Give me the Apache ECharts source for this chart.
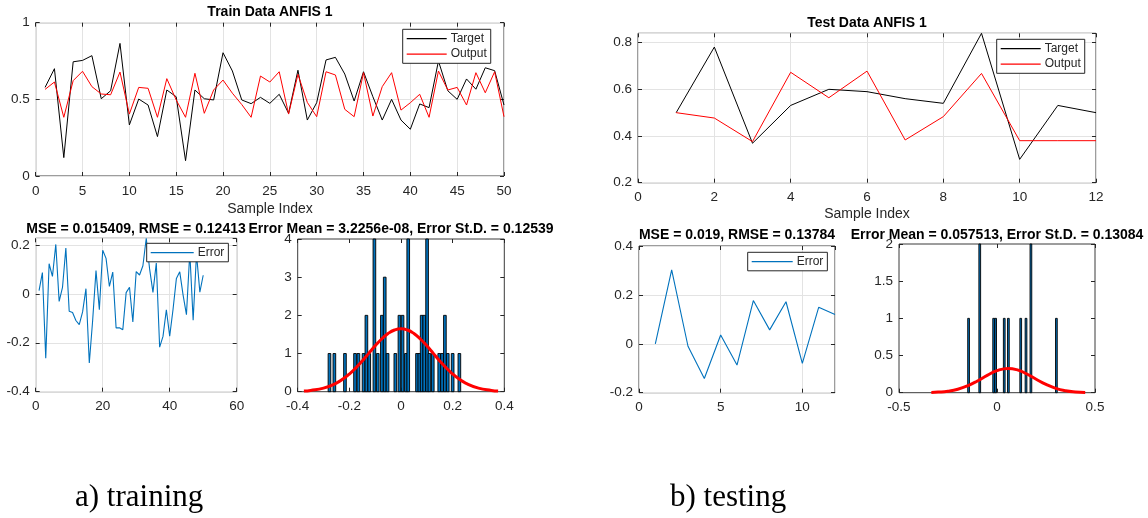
<!DOCTYPE html>
<html><head><meta charset="utf-8">
<script src="https://cdn.jsdelivr.net/npm/echarts@6/dist/echarts.min.js"></script>
<style>html,body{margin:0;padding:0;background:#fff}#c{width:1148px;height:518px}</style>
</head><body><div id="c"></div>
<script>
// ---------- DATA ----------
const trainIndex = [1,2,3,4,5,6,7,8,9,10,11,12,13,14,15,16,17,18,19,20,21,22,23,24,25,26,27,28,29,30,31,32,33,34,35,36,37,38,39,40,41,42,43,44,45,46,47,48,49,50];
const trainTarget = [0.578,0.70,0.12,0.745,0.754,0.785,0.504,0.556,0.865,0.333,
  0.502,0.463,0.257,0.561,0.517,0.10,0.561,0.504,0.496,0.804,
  0.685,0.496,0.472,0.513,0.474,0.533,0.409,0.69,0.365,0.478,
  0.757,0.774,0.665,0.489,0.68,0.517,0.365,0.50,0.365,0.305,
  0.47,0.446,0.75,0.556,0.50,0.633,0.566,0.706,0.687,0.463];
const trainOutput = [0.565,0.613,0.383,0.622,0.683,0.583,0.535,0.530,0.678,0.404,
  0.578,0.572,0.383,0.635,0.496,0.383,0.67,0.409,0.561,0.626,
  0.54,0.466,0.383,0.652,0.613,0.68,0.404,0.663,0.48,0.387,
  0.68,0.659,0.435,0.387,0.674,0.391,0.583,0.674,0.43,0.478,
  0.533,0.383,0.685,0.561,0.578,0.463,0.674,0.543,0.68,0.387];
const trainError = [0.013,0.087,-0.263,0.123,0.071,0.202,-0.031,0.026,0.187,-0.071,
  -0.076,-0.109,-0.126,-0.074,0.021,-0.283,-0.109,0.095,-0.065,0.178,
  0.145,0.030,0.089,-0.139,-0.139,-0.147,0.005,0.027,-0.115,0.091,
  0.077,0.115,0.227,0.102,0.006,0.126,-0.218,-0.174,-0.065,-0.173,
  -0.063,0.063,0.09,-0.005,-0.085,0.17,-0.108,0.163,0.007,0.076];
// histogram of training error: bin centres and counts
const trainBinCenters = [-0.277,-0.258,-0.217,-0.178,-0.165,-0.145,-0.134,-0.123,-0.103,-0.090,-0.074,-0.063,-0.052,-0.022,-0.006,0.006,0.019,0.028,0.062,0.071,0.080,0.090,0.101,0.110,0.123,0.148,0.159,0.170,0.181,0.200,0.226];
const trainBinCounts  = [1,1,1,1,1,1,2,1,4,1,2,3,1,1,2,2,1,4,1,1,2,2,4,1,1,1,1,2,1,1,1];
const trainBinWidth = 0.0103;
// fitted normal curve (train)
const trainFitX = [-0.376,-0.35,-0.3,-0.25,-0.225,-0.2,-0.175,-0.15,-0.125,-0.1,-0.075,-0.05,-0.025,0,0.025,0.05,0.075,0.1,0.125,0.15,0.175,0.2,0.225,0.25,0.3,0.35,0.376];
const trainFitY = [0.018,0.034,0.094,0.226,0.33,0.462,0.623,0.807,1.004,1.201,1.38,1.524,1.617,1.65,1.617,1.524,1.38,1.201,1.004,0.807,0.623,0.462,0.33,0.226,0.094,0.034,0.018];

const testIndex = [1,2,3,4,5,6,7,8,9,10,11,12];
const testTarget = [0.50,0.781,0.369,0.531,0.60,0.59,0.56,0.54,0.84,0.30,0.531,0.50];
const testOutput = [0.50,0.477,0.376,0.673,0.564,0.678,0.383,0.483,0.668,0.38,0.38,0.38];
const testError  = [0.0,0.302,-0.01,-0.142,0.036,-0.087,0.177,0.057,0.172,-0.08,0.149,0.12];
const testBinCenters = [-0.145,-0.088,-0.017,-0.007,0.037,0.058,0.121,0.148,0.173,0.303];
const testBinCounts  = [1,2,1,1,1,1,1,1,2,1];
const testBinWidth = 0.0089;
const testFitX = [-0.335,-0.3,-0.25,-0.2,-0.15,-0.1,-0.05,0,0.0575,0.1,0.15,0.2,0.25,0.3,0.35,0.4,0.45];
const testFitY = [0.0036,0.0078,0.0207,0.0472,0.093,0.158,0.233,0.297,0.327,0.310,0.255,0.181,0.111,0.0587,0.0269,0.0106,0.0036];

const titles = {
  train: 'Train Data ANFIS 1', test: 'Test Data ANFIS 1', xlab: 'Sample Index',
  trainErr: 'MSE = 0.015409, RMSE = 0.12413', trainHist: 'Error Mean = 3.2256e-08, Error St.D. = 0.12539',
  testErr: 'MSE = 0.019, RMSE = 0.13784', testHist: 'Error Mean = 0.057513, Error St.D. = 0.13084',
  capA: 'a) training', capB: 'b) testing'
};

// ---------- LAYOUT ----------
const FONT = '"Liberation Sans", Arial, sans-serif';
const AX = '#262626';
const grids = [
  {left:35.7, top:22.7, width:468.3, height:153.3},   // train top
  {left:35.7, top:238.3, width:201, height:153.4},    // train error
  {left:297.7, top:239, width:206.6, height:152.7},   // train hist
  {left:638, top:33.3, width:458, height:149.4},      // test top
  {left:639, top:246, width:196, height:146.7},       // test error
  {left:899, top:244, width:196, height:148.7}        // test hist
];
const ranges = [
  {x:[0,50,5], y:[0,1,0.5], grid:true},
  {x:[0,60,20], y:[-0.4,0.227,0.2], grid:true},
  {x:[-0.4,0.4,0.2], y:[0,4,1], grid:false},
  {x:[0,12,2], y:[0.2,0.84,0.2], grid:true},
  {x:[0,12,5], y:[-0.2,0.4,0.2], grid:true},
  {x:[-0.5,0.5,0.5], y:[0,2,0.5], grid:false}
];
const isMult = (a, b, s) => Math.abs((b - a) / s - Math.round((b - a) / s)) < 1e-6;
const xAxes = [], yAxes = [];
const lblStyle = {color: AX, fontSize: 13.5, fontFamily: FONT};
const tick = {inside:true, length:4, lineStyle:{color:AX}};
ranges.forEach((r, i) => {
  const sl = {show: r.grid, lineStyle: {color: '#e3e3e3', width: 1}};
  xAxes.push({type:'value', gridIndex:i, position:'bottom', min:r.x[0], max:r.x[1], interval:r.x[2],
    axisLine:{show:false, onZero:false}, axisTick:tick,
    axisLabel:Object.assign({margin:8, showMaxLabel: isMult(r.x[0], r.x[1], r.x[2])}, lblStyle), splitLine:sl});
  yAxes.push({type:'value', gridIndex:i, position:'left', min:r.y[0], max:r.y[1], interval:r.y[2],
    axisLine:{show:false, onZero:false}, axisTick:tick,
    axisLabel:Object.assign({margin:6, showMaxLabel: isMult(r.y[0], r.y[1], r.y[2])}, lblStyle), splitLine:sl});
});
ranges.forEach((r, i) => {
  xAxes.push({type:'value', gridIndex:i, position:'top', min:r.x[0], max:r.x[1], interval:r.x[2],
    axisLine:{show:false, onZero:false}, axisTick:tick, axisLabel:{show:false}, splitLine:{show:false}});
  yAxes.push({type:'value', gridIndex:i, position:'right', min:r.y[0], max:r.y[1], interval:r.y[2],
    axisLine:{show:false, onZero:false}, axisTick:tick, axisLabel:{show:false}, splitLine:{show:false}});
});

const pairs = (xs, ys) => xs.map((x, k) => [x, ys[k]]);
function lineSeries(name, xs, ys, gi, color, width) {
  return {type:'line', name, xAxisIndex:gi, yAxisIndex:gi, data:pairs(xs, ys),
    showSymbol:false, symbol:'none', lineStyle:{color, width}, itemStyle:{color}, animation:false, z:3};
}
function histSeries(centers, counts, gi, bw) {
  return {type:'custom', xAxisIndex:gi, yAxisIndex:gi, data:pairs(centers, counts), encode:{x:0, y:1},
    animation:false, z:2,
    renderItem(params, api) {
      const x = api.value(0), h = api.value(1);
      const p0 = api.coord([x - bw/2, 0]), p1 = api.coord([x + bw/2, h]);
      return {type:'rect', shape:{x:p0[0], y:p1[1], width:Math.max(p1[0]-p0[0],1), height:p0[1]-p1[1]},
        style:{fill:'#0072BD', stroke:'#000', lineWidth:0.9}};
    }};
}
const series = [
  lineSeries('Target', trainIndex, trainTarget, 0, '#000000', 1),
  lineSeries('Output', trainIndex, trainOutput, 0, '#FF0000', 1),
  lineSeries('Error', trainIndex, trainError, 1, '#0072BD', 1.1),
  histSeries(trainBinCenters, trainBinCounts, 2, trainBinWidth),
  Object.assign(lineSeries('fit1', trainFitX, trainFitY, 2, '#FF0000', 3), {smooth:true, z:4}),
  lineSeries('Target', testIndex, testTarget, 3, '#000000', 1),
  lineSeries('Output', testIndex, testOutput, 3, '#FF0000', 1),
  lineSeries('Error', testIndex, testError, 4, '#0072BD', 1.1),
  histSeries(testBinCenters, testBinCounts, 5, testBinWidth),
  Object.assign(lineSeries('fit2', testFitX, testFitY, 5, '#FF0000', 3), {smooth:true, z:4})
];

function legend(names, left, top, itemWidth) {
  return {data:names, orient:'vertical', left, top, icon:'rect', itemWidth, itemHeight:1.3,
    itemGap:1, padding:[2,4,2,4], borderColor:AX, borderWidth:1, backgroundColor:'#fff',
    selectedMode:false, textStyle:{fontSize:12, fontFamily:FONT, color:AX, lineHeight:14.5, padding:[0,0,0,-1]}};
}
const legends = [
  legend(['Target','Output'], 402.7, 29.3, 40),
  legend(['Error'], 146.7, 243.3, 43),
  legend(['Target','Output'], 996.7, 39.3, 40),
  legend(['Error'], 747.7, 252.3, 41)
];

function txt(text, x, y, font, align, color) {
  return {type:'text', x, y, silent:true, z:10,
    style:{text, font, fill:color || '#000', textAlign:align || 'center', textVerticalAlign:'middle'}};
}
const B = 'bold 14px ' + FONT, R = '14px ' + FONT, CAP = '31px "Liberation Serif", "Times New Roman", serif';
const graphic = [
  txt(titles.train, 270, 12, B),
  txt(titles.xlab, 270, 209, R, 'center', AX),
  txt(titles.trainErr, 136, 229, B),
  txt(titles.trainHist, 401, 229, B),
  txt(titles.test, 867, 23, B),
  txt(titles.xlab, 867, 214, R, 'center', AX),
  txt(titles.testErr, 737, 235, B),
  txt(titles.testHist, 997, 235, B),
  txt(titles.capA, 75, 498, CAP, 'left'),
  txt(titles.capB, 670, 498, CAP, 'left')
];

const chart = echarts.init(document.getElementById('c'), null, {renderer:'canvas'});
chart.setOption({
  backgroundColor:'#fff', animation:false,
  grid: grids.map(g => Object.assign({show:true, borderColor:'#3a3a3a', borderWidth:1, backgroundColor:'transparent', containLabel:false}, g)),
  xAxis:xAxes, yAxis:yAxes, legend:legends, series, graphic
});
</script></body></html>
